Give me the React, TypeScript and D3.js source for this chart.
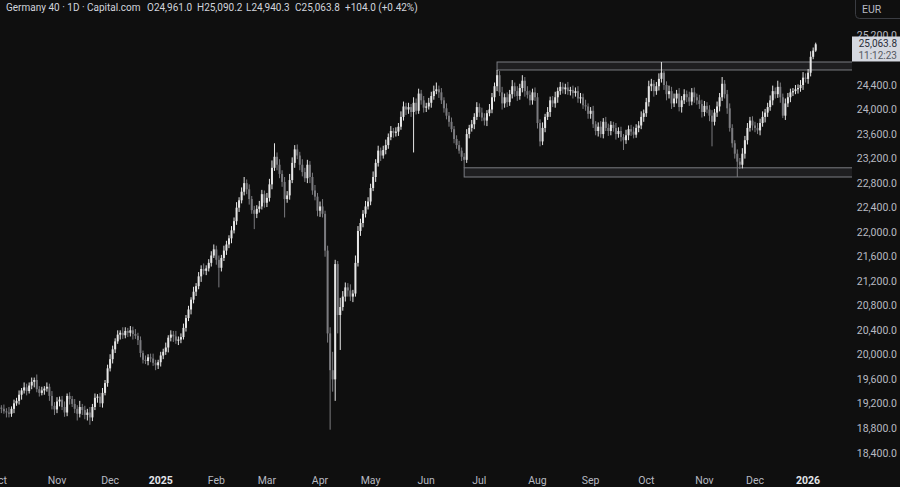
import React from "react";
import * as d3 from "d3";

// ---- Data (daily closes, Germany 40 CFD, Oct 2024 – Jan 2026) ----
const monthLabels = ["Oct", "Nov", "Dec", "2025", "Feb", "Mar", "Apr", "May", "Jun", "Jul", "Aug", "Sep", "Oct", "Nov", "Dec", "2026"];
const yearLabels = ["2025", "2026"];

const firstOpen = 19180;

const oct24 = [19140, 19120, 19080, 19060, 19040, 19120, 19210, 19250, 19350, 19420, 19470, 19410, 19500, 19560, 19590, 19440, 19380, 19420, 19450, 19480, 19330, 19170, 19110];
const nov24 = [19240, 19270, 19150, 19060, 19330, 19280, 19200, 19120, 19040, 19150, 19100, 19020, 19060, 18980, 19150, 19300, 19320, 19210, 19380, 19540, 19780];
const dec24 = [19930, 20090, 20220, 20330, 20360, 20320, 20390, 20360, 20400, 20340, 20310, 20240, 20030, 19920, 19900, 19960, 19940, 19870, 19830, 19880];
const jan25 = [19990, 20050, 20120, 20280, 20330, 20300, 20230, 20250, 20290, 20440, 20600, 20740, 20900, 21030, 21120, 21280, 21400, 21370, 21410, 21500, 21620, 21720];
const feb25 = [21550, 21420, 21580, 21700, 21800, 21900, 22030, 22180, 22400, 22520, 22660, 22800, 22700, 22540, 22360, 22300, 22380, 22420, 22620, 22480];
const mar25 = [22560, 22780, 23050, 23230, 23100, 22950, 22820, 22540, 22600, 22850, 23130, 23350, 23250, 23100, 22980, 22880, 23100, 22900, 22680, 22580, 22350];
const apr25 = [22420, 22300, 21700, 20350, 19750, 19600, 21480, 20650, 20780, 20950, 21100, 21050, 20950, 21000, 21500, 22020, 22150, 22300, 22420, 22500];
const may25 = [22720, 22900, 23130, 23330, 23250, 23340, 23420, 23550, 23650, 23620, 23640, 23720, 23880, 24050, 24000, 24040, 23960, 24110, 23980, 24260, 24150, 24030];
const jun25 = [24050, 24110, 24220, 24300, 24330, 24280, 24150, 24020, 23900, 23800, 23680, 23520, 23420, 23330, 23230, 23180, 23600, 23700, 23760, 23880, 24040];
const jul25 = [23950, 23870, 23820, 23940, 24000, 24200, 24380, 24560, 24280, 24100, 24200, 24120, 24250, 24380, 24300, 24220, 24350, 24470, 24300, 24240, 24150, 24280, 24200];
const aug25 = [23780, 23480, 23700, 23880, 23960, 24150, 24100, 24200, 24300, 24370, 24330, 24360, 24300, 24320, 24270, 24300, 24180, 24200, 24070, 24050, 23930];
const sep25 = [23980, 23760, 23650, 23720, 23600, 23800, 23700, 23650, 23750, 23700, 23600, 23650, 23550, 23500, 23580, 23680, 23640, 23590, 23700, 23740, 23880, 23940];
const oct25 = [24120, 24380, 24420, 24300, 24380, 24500, 24600, 24400, 24250, 24300, 24100, 24180, 24260, 24040, 24150, 24250, 24200, 24130, 24280, 24200, 24150, 24090, 23960];
const nov25 = [24060, 24000, 23900, 23800, 23950, 24050, 24200, 24420, 24250, 24020, 23700, 23450, 23280, 23150, 23100, 23280, 23500, 23700, 23820, 23740];
const dec25 = [23700, 23660, 23780, 23880, 23950, 24040, 24150, 24300, 24250, 24370, 24200, 23900, 24100, 24200, 24280, 24300, 24330, 24350, 24400, 24520, 24500];
const jan26 = [24600, 24860, 24961.0, 25063.8];

// upper wick (points above max(open, close)) and lower wick (points below min(open, close))
const upOct24 = [60, 40, 70, 50, 90, 40, 60, 50, 70, 40, 80, 60, 50, 70, 40, 90, 50, 60, 40, 70, 50, 80, 60];
const dnOct24 = [50, 70, 40, 80, 60, 50, 70, 40, 60, 80, 50, 70, 40, 60, 90, 50, 60, 40, 70, 50, 80, 60, 90];
const upNov24 = [70, 50, 60, 90, 40, 60, 50, 80, 60, 100, 50, 70, 60, 90, 50, 70, 40, 60, 80, 50, 60];
const dnNov24 = [60, 80, 50, 70, 60, 90, 50, 70, 110, 60, 80, 70, 90, 120, 60, 50, 80, 60, 70, 40, 60];
const upDec24 = [80, 60, 50, 70, 40, 90, 60, 50, 70, 60, 80, 50, 60, 40, 70, 50, 60, 80, 50, 40];
const dnDec24 = [50, 70, 60, 40, 80, 60, 50, 70, 60, 90, 50, 80, 70, 60, 50, 70, 60, 50, 80, 60];
const upJan25 = [60, 50, 80, 40, 70, 60, 90, 50, 60, 70, 50, 60, 40, 80, 50, 70, 60, 90, 50, 60, 70, 80];
const dnJan25 = [70, 60, 50, 80, 60, 90, 50, 70, 60, 40, 60, 50, 80, 60, 70, 50, 90, 60, 70, 50, 60, 40];
const upFeb25 = [60, 70, 50, 80, 60, 50, 70, 60, 90, 50, 70, 100, 60, 80, 50, 70, 60, 90, 70, 60];
const dnFeb25 = [80, 320, 60, 50, 70, 60, 80, 50, 60, 70, 50, 60, 80, 90, 60, 250, 70, 60, 50, 80];
const upMar25 = [80, 90, 120, 220, 70, 90, 60, 80, 70, 100, 90, 70, 80, 60, 90, 70, 80, 60, 70, 90, 60];
const dnMar25 = [70, 60, 80, 50, 90, 70, 80, 300, 60, 70, 50, 80, 60, 90, 70, 60, 80, 100, 70, 60, 90];
const upApr25 = [80, 120, 50, 80, 100, 300, 70, 50, 150, 90, 80, 70, 100, 60, 120, 80, 70, 60, 90, 70];
const dnApr25 = [100, 60, 100, 150, 970, 200, 350, 300, 570, 60, 80, 100, 70, 90, 50, 60, 80, 70, 60, 50];
const upMay25 = [70, 90, 60, 80, 50, 70, 90, 60, 80, 50, 70, 60, 90, 80, 60, 70, 50, 90, 70, 80, 60, 70];
const dnMay25 = [60, 50, 80, 60, 90, 50, 70, 60, 50, 80, 60, 70, 50, 60, 90, 70, 80, 660, 60, 50, 70, 80];
const upJun25 = [60, 80, 70, 90, 110, 60, 70, 50, 80, 60, 70, 50, 60, 70, 50, 60, 80, 50, 70, 60, 80];
const dnJun25 = [70, 50, 80, 60, 50, 90, 60, 70, 60, 80, 50, 70, 60, 50, 70, 130, 50, 70, 60, 80, 50];
const upJul25 = [60, 80, 70, 50, 90, 70, 60, 85, 70, 90, 60, 80, 70, 100, 60, 80, 70, 90, 60, 80, 70, 60, 80];
const dnJul25 = [70, 60, 80, 90, 50, 60, 70, 80, 60, 100, 70, 80, 60, 70, 90, 80, 60, 70, 90, 60, 80, 70, 60];
const upAug25 = [70, 60, 90, 50, 80, 60, 70, 90, 60, 80, 70, 60, 90, 50, 70, 60, 80, 70, 60, 90, 50];
const dnAug25 = [90, 80, 60, 70, 50, 80, 60, 70, 90, 60, 70, 80, 60, 70, 90, 60, 70, 80, 60, 70, 80];
const upSep25 = [60, 80, 50, 70, 90, 60, 80, 70, 60, 50, 80, 60, 70, 50, 90, 60, 70, 80, 60, 70, 90, 60];
const dnSep25 = [80, 60, 70, 90, 60, 70, 50, 80, 70, 60, 90, 60, 70, 160, 60, 80, 70, 60, 50, 70, 60, 80];
const upOct25 = [70, 90, 80, 60, 70, 90, 175, 30, 60, 90, 70, 80, 60, 90, 70, 80, 60, 90, 70, 80, 60, 90, 70];
const dnOct25 = [60, 70, 80, 90, 60, 70, 60, 80, 100, 70, 90, 60, 80, 70, 90, 60, 80, 70, 60, 90, 70, 80, 90];
const upNov25 = [80, 60, 70, 90, 60, 80, 70, 110, 60, 70, 80, 60, 50, 70, 60, 90, 70, 80, 60, 70];
const dnNov25 = [70, 60, 90, 400, 60, 70, 80, 60, 70, 90, 60, 70, 80, 250, 70, 60, 80, 70, 60, 80];
const upDec25 = [60, 80, 70, 90, 60, 70, 80, 90, 60, 100, 70, 60, 80, 70, 60, 50, 70, 60, 80, 90, 70];
const dnDec25 = [70, 60, 80, 60, 90, 70, 60, 80, 70, 60, 90, 40, 70, 60, 80, 60, 50, 70, 60, 80, 60];
const upJan26 = [60, 90, 50, 26.4];
const dnJan26 = [80, 60, 40, 20.7];

const monthCloses = [oct24, nov24, dec24, jan25, feb25, mar25, apr25, may25, jun25, jul25, aug25, sep25, oct25, nov25, dec25, jan26];
const monthUp = [upOct24, upNov24, upDec24, upJan25, upFeb25, upMar25, upApr25, upMay25, upJun25, upJul25, upAug25, upSep25, upOct25, upNov25, upDec25, upJan26];
const monthDn = [dnOct24, dnNov24, dnDec24, dnJan25, dnFeb25, dnMar25, dnApr25, dnMay25, dnJun25, dnJul25, dnAug25, dnSep25, dnOct25, dnNov25, dnDec25, dnJan26];

const priceTicks = [18400, 18800, 19200, 19600, 20000, 20400, 20800, 21200, 21600, 22000, 22400, 22800, 23200, 23600, 24000, 24400, 24800, 25200];

// zones: bar index where the zone starts, and the two bars whose extremes give its edges
const resistanceZone = { start: 197, edgeA: 197, edgeB: 262 }; // July high -> October high
const supportZone = { start: 184, edgeA: 184, edgeB: 292 }; // June low -> November low

const headerTitle = "Germany 40 · 1D · Capital.com";
const headerO = "O24,961.0";
const headerH = "H25,090.2";
const headerL = "L24,940.3";
const headerC = "C25,063.8";
const headerChg = "+104.0 (+0.42%)";
const countdown = "11:12:23";

// ---- Layout ----
const W = 900;
const H = 487;
const PLOT_R = 852;
const BAR_STEP = 2.529;
const FONT = "Roboto, 'Noto Sans', sans-serif";
const BG = "#0f0f0f";
const UP = "#e6e6e6";
const DOWN = "#7b7b7f";
const AXIS_TXT = "#b8bac2";
const LABEL_TOP = 36.5;
const LABEL_BOTTOM = 61.5;

export default function App() {
  const closes = monthCloses.flat();
  const ups = monthUp.flat();
  const dns = monthDn.flat();

  const bars = closes.map((c, i) => {
    const o = i === 0 ? firstOpen : closes[i - 1];
    return { i, o, c, hi: Math.max(o, c) + ups[i], lo: Math.min(o, c) - dns[i] };
  });

  const x = d3.scaleLinear().domain([0.46, 0.46 + PLOT_R / BAR_STEP]).range([0, PLOT_R]);
  const y = d3.scaleLinear().domain([18400, 24400]).range([453, 85]);

  const monthStarts: number[] = [];
  let acc = 0;
  monthCloses.forEach((m) => {
    monthStarts.push(acc);
    acc += m.length;
  });

  const fmt = d3.format(",.1f");
  const last = bars[bars.length - 1];
  const bodyW = 2;

  const zoneRect = (top: number, bottom: number, start: number) => {
    const x0 = x(start);
    return (
      <rect
        x={x0}
        y={y(top)}
        width={PLOT_R - x0 + 2}
        height={y(bottom) - y(top)}
        fill="#1e1e20"
        stroke="#7a7c82"
        strokeWidth={1}
      />
    );
  };

  const resTop = Math.max(bars[resistanceZone.edgeA].hi, bars[resistanceZone.edgeB].hi);
  const resBot = Math.min(bars[resistanceZone.edgeA].hi, bars[resistanceZone.edgeB].hi);
  const supTop = Math.max(bars[supportZone.edgeA].lo, bars[supportZone.edgeB].lo);
  const supBot = Math.min(bars[supportZone.edgeA].lo, bars[supportZone.edgeB].lo);

  // ticks hidden behind the last-price label
  const visibleTicks = priceTicks.filter((v) => !(y(v) > LABEL_TOP && y(v) <= LABEL_BOTTOM + 2));

  return (
    <svg
      width={W}
      height={H}
      style={{ position: "fixed", left: 0, top: 0, background: BG, display: "block" }}
      fontFamily={FONT}
    >
      <rect x={0} y={0} width={W} height={H} fill={BG} />
      <defs>
        <clipPath id="plot">
          <rect x={0} y={0} width={PLOT_R} height={470} />
        </clipPath>
      </defs>

      <g clipPath="url(#plot)">
        {zoneRect(resTop, resBot, resistanceZone.start)}
        {zoneRect(supTop, supBot, supportZone.start)}
        {bars.map((b) => {
          const cx = x(b.i);
          const col = b.c >= b.o ? UP : DOWN;
          const yTop = y(Math.max(b.o, b.c));
          const yBot = y(Math.min(b.o, b.c));
          return (
            <g key={b.i}>
              <line x1={cx} x2={cx} y1={y(b.hi)} y2={y(b.lo)} stroke={col} strokeWidth={1} />
              <rect x={cx - bodyW / 2} y={yTop} width={bodyW} height={Math.max(1, yBot - yTop)} fill={col} />
            </g>
          );
        })}
      </g>

      {/* right price axis */}
      {visibleTicks.map((v) => (
        <text key={v} x={897} y={y(v)} textAnchor="end" dominantBaseline="central" fontSize={10.5} fill={AXIS_TXT}>
          {fmt(v)}
        </text>
      ))}

      {/* last price label */}
      <rect x={852} y={LABEL_TOP} width={48} height={LABEL_BOTTOM - LABEL_TOP} fill="#d5d8e0" />
      <text x={897} y={43} textAnchor="end" dominantBaseline="central" fontSize={10} fill="#2a2e39">
        {fmt(last.c)}
      </text>
      <text x={897} y={55} textAnchor="end" dominantBaseline="central" fontSize={10} fill="#555862">
        {countdown}
      </text>

      {/* currency button */}
      <rect x={855.5} y={-4} width={50} height={22.5} rx={4} fill={BG} stroke="#3a3c42" />
      <text x={862} y={9} dominantBaseline="central" fontSize={10.5} fill={AXIS_TXT}>
        EUR
      </text>

      {/* time axis */}
      {monthLabels.map((lab, k) => {
        const isYear = yearLabels.includes(lab);
        return (
          <text
            key={k}
            x={x(monthStarts[k])}
            y={480}
            textAnchor="middle"
            dominantBaseline="central"
            fontSize={10.5}
            fontWeight={isYear ? 700 : 400}
            fill={isYear ? "#e3e5ea" : AXIS_TXT}
          >
            {lab}
          </text>
        );
      })}

      {/* header legend */}
      <g fontSize={10} fill="#d1d4dc" dominantBaseline="central">
        <text x={6} y={7}>{headerTitle}</text>
        <text x={147} y={7}>{headerO}</text>
        <text x={197} y={7}>{headerH}</text>
        <text x={246} y={7}>{headerL}</text>
        <text x={295} y={7}>{headerC}</text>
        <text x={345} y={7}>{headerChg}</text>
      </g>
    </svg>
  );
}
